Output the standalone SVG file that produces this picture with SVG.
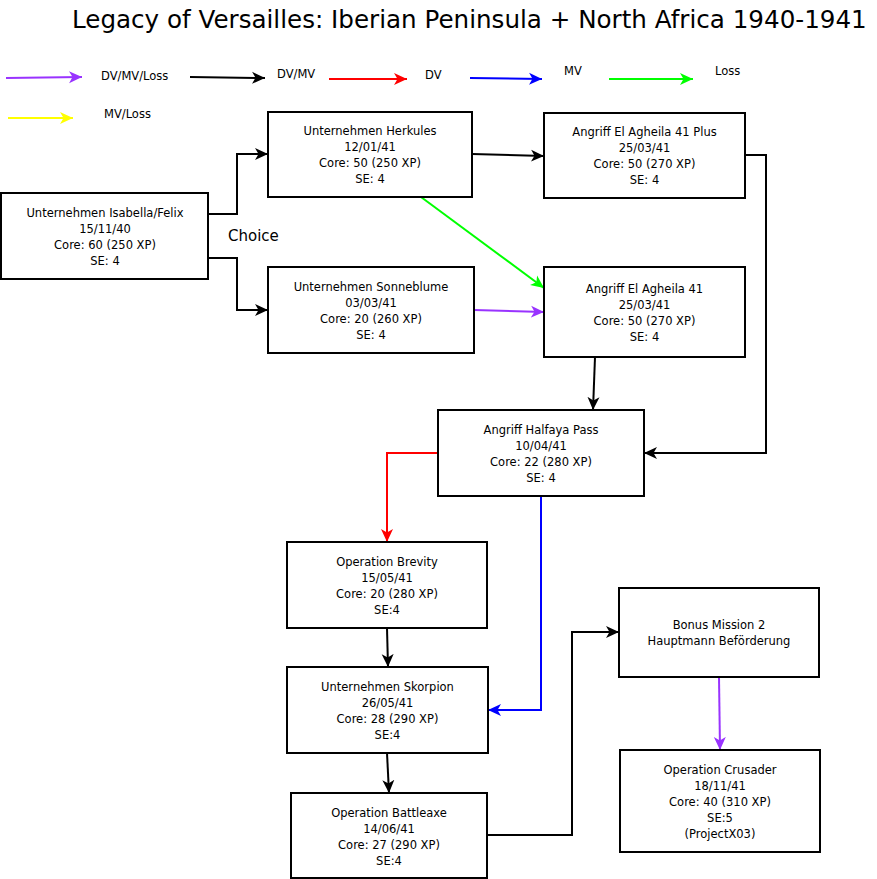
<svg xmlns="http://www.w3.org/2000/svg" width="877" height="879" viewBox="0 0 877 879">
<style>
text{font-family:"DejaVu Sans","Liberation Sans",sans-serif;fill:#000}
.t{font-size:11.5px;text-anchor:middle}
.lg{font-size:11.5px}
.box{fill:#fff;stroke:#000;stroke-width:2}
.c{fill:none;stroke-width:2}
</style>
<defs>
<marker id="ak" markerUnits="userSpaceOnUse" markerWidth="16" markerHeight="14" refX="13" refY="7" orient="auto"><path d="M0,1 L13,7 L0,13 L3.5,7 Z" fill="#000"/></marker>
<marker id="ar" markerUnits="userSpaceOnUse" markerWidth="16" markerHeight="14" refX="13" refY="7" orient="auto"><path d="M0,1 L13,7 L0,13 L3.5,7 Z" fill="#ff0000"/></marker>
<marker id="ab" markerUnits="userSpaceOnUse" markerWidth="16" markerHeight="14" refX="13" refY="7" orient="auto"><path d="M0,1 L13,7 L0,13 L3.5,7 Z" fill="#0000ff"/></marker>
<marker id="ag" markerUnits="userSpaceOnUse" markerWidth="16" markerHeight="14" refX="13" refY="7" orient="auto"><path d="M0,1 L13,7 L0,13 L3.5,7 Z" fill="#00ff00"/></marker>
<marker id="ap" markerUnits="userSpaceOnUse" markerWidth="16" markerHeight="14" refX="13" refY="7" orient="auto"><path d="M0,1 L13,7 L0,13 L3.5,7 Z" fill="#9933ff"/></marker>
<marker id="ay" markerUnits="userSpaceOnUse" markerWidth="16" markerHeight="14" refX="13" refY="7" orient="auto"><path d="M0,1 L13,7 L0,13 L3.5,7 Z" fill="#ffff00"/></marker>
</defs>
<rect width="877" height="879" fill="#fff"/>
<text x="72" y="28" font-size="24.6">Legacy of Versailles: Iberian Peninsula + North Africa 1940-1941</text>

<g id="legend">
<path class="c" d="M6,78 L82,77" stroke="#9933ff" marker-end="url(#ap)"/>
<text class="lg" x="101" y="80">DV/MV/Loss</text>
<path class="c" d="M190,77 L265,78" stroke="#000" marker-end="url(#ak)"/>
<text class="lg" x="277" y="78">DV/MV</text>
<path class="c" d="M329,79 L407,79" stroke="#ff0000" marker-end="url(#ar)"/>
<text class="lg" x="425" y="79">DV</text>
<path class="c" d="M470,78 L542,79" stroke="#0000ff" marker-end="url(#ab)"/>
<text class="lg" x="564" y="75">MV</text>
<path class="c" d="M609,79 L693,79" stroke="#00ff00" marker-end="url(#ag)"/>
<text class="lg" x="715" y="75">Loss</text>
<path class="c" d="M8,118 L73,118" stroke="#ffff00" marker-end="url(#ay)"/>
<text class="lg" x="104" y="118">MV/Loss</text>
</g>

<g id="connectors">
<path class="c" stroke="#000" d="M208,214 H237 V154 H268" marker-end="url(#ak)"/>
<path class="c" stroke="#000" d="M208,258 H237 V310 H268" marker-end="url(#ak)"/>
<path class="c" stroke="#000" d="M472,154 L544,156" marker-end="url(#ak)"/>
<path class="c" stroke="#00ff00" d="M421,197 L544,288" marker-end="url(#ag)"/>
<path class="c" stroke="#9933ff" d="M474,310 L544,312" marker-end="url(#ap)"/>
<path class="c" stroke="#000" d="M595,357 L593,410" marker-end="url(#ak)"/>
<path class="c" stroke="#000" d="M745,155 H766 V453 H644" marker-end="url(#ak)"/>
<path class="c" stroke="#ff0000" d="M438,453 H387 V542" marker-end="url(#ar)"/>
<path class="c" stroke="#0000ff" d="M541,496 V710 H488" marker-end="url(#ab)"/>
<path class="c" stroke="#000" d="M387,628 L388,667" marker-end="url(#ak)"/>
<path class="c" stroke="#000" d="M387,753 L389,793" marker-end="url(#ak)"/>
<path class="c" stroke="#000" d="M487,835 H572 V632 H619" marker-end="url(#ak)"/>
<path class="c" stroke="#9933ff" d="M719,677 L720,750" marker-end="url(#ap)"/>
</g>

<text x="228" y="241" font-size="15">Choice</text>

<g id="n-isabella"><rect class="box" x="1" y="193" width="207" height="86"/>
<text class="t" x="105" y="217">Unternehmen Isabella/Felix</text><text class="t" x="105" y="233">15/11/40</text><text class="t" x="105" y="249">Core: 60 (250 XP)</text><text class="t" x="105" y="265">SE: 4</text></g>

<g id="n-herkules"><rect class="box" x="268" y="112" width="204" height="85"/>
<text class="t" x="370" y="135">Unternehmen Herkules</text><text class="t" x="370" y="151">12/01/41</text><text class="t" x="370" y="167">Core: 50 (250 XP)</text><text class="t" x="370" y="183">SE: 4</text></g>

<g id="n-sonneblume"><rect class="box" x="268" y="267" width="206" height="86"/>
<text class="t" x="371" y="291">Unternehmen Sonneblume</text><text class="t" x="371" y="307">03/03/41</text><text class="t" x="371" y="323">Core: 20 (260 XP)</text><text class="t" x="371" y="339">SE: 4</text></g>

<g id="n-agheila-plus"><rect class="box" x="544" y="113" width="201" height="85"/>
<text class="t" x="644.5" y="136">Angriff El Agheila 41 Plus</text><text class="t" x="644.5" y="152">25/03/41</text><text class="t" x="644.5" y="168">Core: 50 (270 XP)</text><text class="t" x="644.5" y="184">SE: 4</text></g>

<g id="n-agheila"><rect class="box" x="544" y="267" width="201" height="90"/>
<text class="t" x="644.5" y="293">Angriff El Agheila 41</text><text class="t" x="644.5" y="309">25/03/41</text><text class="t" x="644.5" y="325">Core: 50 (270 XP)</text><text class="t" x="644.5" y="341">SE: 4</text></g>

<g id="n-halfaya"><rect class="box" x="438" y="410" width="206" height="86"/>
<text class="t" x="541" y="434">Angriff Halfaya Pass</text><text class="t" x="541" y="450">10/04/41</text><text class="t" x="541" y="466">Core: 22 (280 XP)</text><text class="t" x="541" y="482">SE: 4</text></g>

<g id="n-brevity"><rect class="box" x="287" y="542" width="200" height="86"/>
<text class="t" x="387" y="566">Operation Brevity</text><text class="t" x="387" y="582">15/05/41</text><text class="t" x="387" y="598">Core: 20 (280 XP)</text><text class="t" x="387" y="614">SE:4</text></g>

<g id="n-skorpion"><rect class="box" x="287" y="667" width="201" height="86"/>
<text class="t" x="387.5" y="691">Unternehmen Skorpion</text><text class="t" x="387.5" y="707">26/05/41</text><text class="t" x="387.5" y="723">Core: 28 (290 XP)</text><text class="t" x="387.5" y="739">SE:4</text></g>

<g id="n-battleaxe"><rect class="box" x="291" y="793" width="196" height="85"/>
<text class="t" x="389" y="817">Operation Battleaxe</text><text class="t" x="389" y="833">14/06/41</text><text class="t" x="389" y="849">Core: 27 (290 XP)</text><text class="t" x="389" y="865">SE:4</text></g>

<g id="n-bonus"><rect class="box" x="619" y="588" width="200" height="89"/>
<text class="t" x="719" y="629">Bonus Mission 2</text><text class="t" x="719" y="645">Hauptmann Beförderung</text></g>

<g id="n-crusader"><rect class="box" x="620" y="750" width="200" height="102"/>
<text class="t" x="720" y="774">Operation Crusader</text><text class="t" x="720" y="790">18/11/41</text><text class="t" x="720" y="806">Core: 40 (310 XP)</text><text class="t" x="720" y="822">SE:5</text><text class="t" x="720" y="838">(ProjectX03)</text></g>
</svg>
